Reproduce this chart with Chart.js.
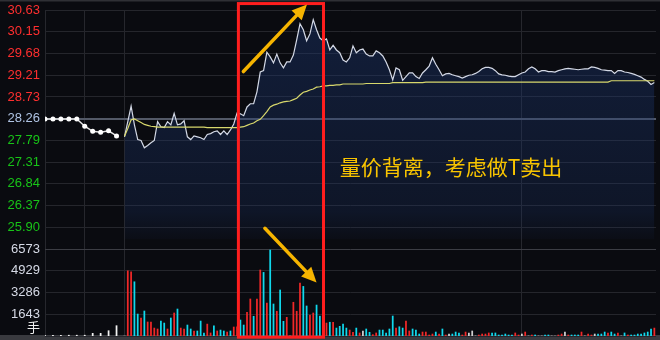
<!DOCTYPE html>
<html lang="zh-CN">
<head>
<meta charset="UTF-8">
<title>分时图 量价背离</title>
<script src="https://cdn.jsdelivr.net/npm/chart.js"></script>
<style>
  html, body { margin: 0; padding: 0; background: #0a0b10; overflow: hidden; }
  #wrap { width: 660px; height: 340px; position: relative; }
</style>
</head>
<body>
<div id="wrap"><canvas id="chart"></canvas></div>
<script>
// 左侧刻度：价格 + 成交量
const priceTicks = ['30.63', '30.15', '29.68', '29.21', '28.73', '28.26', '27.79', '27.31', '26.84', '26.37', '25.90'];
const volTicks = ['6573', '4929', '3286', '1643', '手'];

// 集合竞价 9:15 - 9:24
const auctionPrice = [28.26, 28.26, 28.26, 28.26, 28.26, 28.10, 27.99, 27.97, 28.00, 27.89];
const auctionVol = [60, 60, 60, 60, 60, 60, 200, 200, 400, 780];

// 连续竞价，每分钟一个点（9:30 起）
const price = [
  27.87, 28.20, 28.54, 28.13, 27.81, 27.79, 27.63, 27.68, 27.74, 27.79,
  28.20, 28.09, 28.07, 28.20, 28.13, 28.38, 28.13, 28.15, 28.22, 27.87,
  27.81, 27.89, 27.87, 27.85, 27.81, 27.92, 27.94, 27.98, 28.00, 27.92,
  28.00, 27.92, 28.02, 28.15, 28.39, 28.37, 28.33, 28.52, 28.59, 28.59,
  28.85, 29.28, 29.31, 29.71, 29.61, 29.48, 29.67, 29.48, 29.37, 29.50,
  29.50, 29.65, 29.98, 30.33, 30.20, 29.96, 30.11, 30.42, 30.20, 30.02,
  29.96, 30.00, 29.76, 29.86, 29.76, 29.70, 29.54, 29.50, 29.59, 29.85,
  29.70, 29.76, 29.78, 29.67, 29.63, 29.63, 29.74, 29.70, 29.63, 29.50,
  29.33, 29.11, 29.37, 29.33, 29.10, 29.18, 29.26, 29.26, 29.18, 29.14,
  29.26, 29.33, 29.41, 29.59, 29.45, 29.33, 29.20, 29.24, 29.25, 29.22,
  29.20, 29.18, 29.15, 29.18, 29.21, 29.22, 29.25, 29.29, 29.35, 29.38,
  29.38, 29.36, 29.31, 29.24, 29.22, 29.21, 29.19, 29.18, 29.18, 29.22,
  29.26, 29.28, 29.35, 29.39, 29.35, 29.28, 29.31, 29.31, 29.29, 29.29,
  29.28, 29.31, 29.33, 29.35, 29.36, 29.35, 29.34, 29.33, 29.34, 29.35,
  29.35, 29.39, 29.38, 29.36, 29.33, 29.32, 29.31, 29.31, 29.25, 29.31,
  29.31, 29.28, 29.27, 29.25, 29.23, 29.20, 29.17, 29.12, 29.08, 29.01,
  29.05
];
const avgPrice = [
  27.88, 28.05, 28.24, 28.26, 28.22, 28.18, 28.14, 28.12, 28.10, 28.09,
  28.08, 28.08, 28.08, 28.08, 28.08, 28.08, 28.08, 28.08, 28.08, 28.08,
  28.08, 28.08, 28.08, 28.08, 28.08, 28.07, 28.07, 28.07, 28.07, 28.07,
  28.07, 28.07, 28.07, 28.07, 28.07, 28.08, 28.09, 28.12, 28.15, 28.17,
  28.22, 28.25, 28.33, 28.42, 28.52, 28.56, 28.58, 28.61, 28.63, 28.64,
  28.65, 28.68, 28.71, 28.78, 28.84, 28.86, 28.89, 28.91, 28.95, 28.96,
  28.98, 28.98, 28.99, 28.99, 29.00, 29.00, 29.02, 29.02, 29.02, 29.02,
  29.02, 29.02, 29.02, 29.03, 29.03, 29.03, 29.03, 29.03, 29.03, 29.03,
  29.03, 29.05, 29.05, 29.05, 29.05, 29.05, 29.05, 29.05, 29.05, 29.05,
  29.05, 29.06, 29.06, 29.06, 29.06, 29.06, 29.06, 29.06, 29.06, 29.06,
  29.06, 29.06, 29.06, 29.06, 29.06, 29.06, 29.06, 29.06, 29.06, 29.06,
  29.06, 29.06, 29.06, 29.06, 29.06, 29.06, 29.06, 29.06, 29.06, 29.06,
  29.06, 29.06, 29.06, 29.06, 29.06, 29.06, 29.06, 29.06, 29.06, 29.06,
  29.06, 29.06, 29.06, 29.06, 29.06, 29.06, 29.06, 29.06, 29.06, 29.06,
  29.06, 29.06, 29.06, 29.06, 29.06, 29.06, 29.06, 29.09, 29.09, 29.09,
  29.09, 29.09, 29.09, 29.09, 29.09, 29.09, 29.09, 29.09, 29.09, 29.09,
  29.09
];
const volume = [
  0, 4930, 4860, 4100, 1660, 1360, 1890, 1060, 1060, 600,
  530, 1130, 980, 530, 1360, 1740, 2040, 600, 530, 830,
  530, 380, 380, 1130, 230, 900, 230, 760, 380, 450,
  380, 300, 380, 680, 700, 1210, 830, 1790, 2800, 1490,
  2800, 4990, 4810, 2490, 6500, 2420, 1870, 3480, 1110, 1410,
  0, 2550, 1870, 4000, 3750, 2270, 1590, 1740, 2340, 1500,
  1740, 980, 1040, 1040, 600, 730, 910, 600, 450, 280,
  600, 230, 380, 530, 280, 100, 230, 450, 450, 230,
  530, 1510, 600, 700, 600, 1130, 380, 530, 450, 150,
  300, 300, 75, 150, 300, 150, 530, 75, 150, 150,
  300, 230, 75, 300, 230, 380, 0, 75, 150, 150,
  230, 230, 230, 75, 75, 150, 75, 75, 230, 75,
  150, 300, 0, 75, 75, 0, 0, 75, 75, 0,
  0, 75, 150, 300, 75, 75, 75, 75, 300, 0,
  150, 75, 150, 150, 150, 300, 230, 300, 150, 230,
  0, 230, 75, 75, 75, 150, 150, 230, 300, 530,
  600
];
// 每分钟涨跌：u 涨 / d 跌 / f 平
const volDir =
  'f' +
  'uudduduuuu' + 'ddududuudd' + 'uddduududd' + 'uduudduudu' +
  'ududdudduf' + 'uuudduuddd' + 'ududddduud' + 'ufdduudddd' +
  'dudduudddu' + 'uuududufdd' + 'duufffuuuu' + 'ddddddduuf' +
  'ufudffddff' + 'uufudddufu' + 'ufdddudduf' + 'dudddddddu';

// 竖向网格：9:15、9:20、9:30、10:30、11:30/13:00
const xGrid = [0, 12, 24, 84, 144];

// 标注
const markBox = { x0: 58.4, x1: 84.1, top: 30.77, bottom: 23.51 };
const priceArrow = { x0: 59.9, y0: 29.29, x1: 79.1, y1: 30.75 };
const volArrow = { x0: 66.4, y0: 25.88, x1: 82.0, y1: 24.70 };
const note = { text: '量价背离，考虑做T卖出', x: 89.0, y: 27.22 };

// 坐标换算
const AUCTION_STEP = 2.4;
const OPEN_X = 24;
const X_MAX = 184.5;
const Y_MAX = Number(priceTicks[0]);
const Y_STEP = (Y_MAX - Number(priceTicks[priceTicks.length - 1])) / (priceTicks.length - 1);
const ROWS = priceTicks.length + volTicks.length - 1;
const Y_MIN = Y_MAX - ROWS * Y_STEP;
const V_MAX = Number(volTicks[0]) * ROWS / (volTicks.length - 1);
const FILL_FLOOR = 25.64;

const allTicks = priceTicks.concat(volTicks);
const prevIdx = priceTicks.indexOf('28.26');

const dirColor = { u: '#f02828', d: '#10d8ec', f: '#d0d0d0' };

function tickColor(i) {
  if (i < prevIdx) return '#ff2f2f';
  if (i === prevIdx) return '#b0c4e4';
  if (i < priceTicks.length) return '#18c418';
  if (i === allTicks.length - 1) return '#f0f0f0';
  return '#d6dae6';
}

const backdrop = {
  id: 'backdrop',
  beforeDraw(ch) {
    const c = ch.ctx;
    c.save();
    c.fillStyle = '#0a0b10';
    c.fillRect(0, 0, ch.width, ch.height);
    c.fillStyle = '#2f3035';
    c.fillRect(0, 0, ch.width, 1.5);
    c.fillStyle = '#393a3f';
    c.fillRect(0, ch.chartArea.bottom - 1, ch.width, ch.height - ch.chartArea.bottom + 1);
    c.restore();
  }
};

function drawArrow(c, x1, y1, x2, y2) {
  const a = Math.atan2(y2 - y1, x2 - x1);
  const head = 15, half = 7;
  const bx = x2 - head * Math.cos(a), by = y2 - head * Math.sin(a);
  c.strokeStyle = '#f6b400';
  c.fillStyle = '#f6b400';
  c.lineWidth = 3.5;
  c.lineCap = 'round';
  c.beginPath();
  c.moveTo(x1, y1);
  c.lineTo(bx, by);
  c.stroke();
  c.beginPath();
  c.moveTo(x2, y2);
  c.lineTo(bx + half * Math.sin(a), by - half * Math.cos(a));
  c.lineTo(bx - half * Math.sin(a), by + half * Math.cos(a));
  c.closePath();
  c.fill();
}

const marks = {
  id: 'marks',
  afterDraw(ch) {
    const c = ch.ctx, xs = ch.scales.x, ys = ch.scales.y;
    const px = v => xs.getPixelForValue(v), py = v => ys.getPixelForValue(v);
    c.save();
    // 红框
    c.strokeStyle = '#ff1e1e';
    c.lineWidth = 3;
    c.strokeRect(px(markBox.x0), py(markBox.top), px(markBox.x1) - px(markBox.x0), py(markBox.bottom) - py(markBox.top));
    // 箭头
    drawArrow(c, px(priceArrow.x0), py(priceArrow.y0), px(priceArrow.x1), py(priceArrow.y1));
    drawArrow(c, px(volArrow.x0), py(volArrow.y0), px(volArrow.x1), py(volArrow.y1));
    // 文字
    c.font = '21px "Noto Sans CJK SC", sans-serif';
    c.fillStyle = '#f8c400';
    c.textBaseline = 'middle';
    c.textAlign = 'left';
    c.fillText(note.text, px(note.x), py(note.y));
    c.restore();
  }
};

const ctx = document.getElementById('chart').getContext('2d');
new Chart(ctx, {
  type: 'line',
  data: {
    datasets: [
      {
        label: '集合竞价',
        data: auctionPrice.map((p, i) => ({ x: i * AUCTION_STEP, y: p })),
        borderColor: '#e6e6e6',
        borderWidth: 1.5,
        pointRadius: 2.5,
        pointBackgroundColor: '#ffffff',
        pointBorderWidth: 0,
        yAxisID: 'y',
        order: 1
      },
      {
        label: '价格',
        data: price.map((p, m) => ({ x: OPEN_X + m, y: p })),
        borderColor: '#d4d9e6',
        borderWidth: 1.2,
        pointRadius: 0,
        fill: { value: FILL_FLOOR },
        backgroundColor: (c) => {
          const ch = c.chart;
          if (!ch.chartArea) return 'rgba(28,54,111,0.35)';
          const ys = ch.scales.y;
          const g = ch.ctx.createLinearGradient(0, ys.getPixelForValue(Y_MAX), 0, ys.getPixelForValue(FILL_FLOOR));
          g.addColorStop(0, 'rgba(28,54,111,0.45)');
          g.addColorStop(0.88, 'rgba(28,54,111,0.25)');
          g.addColorStop(1, 'rgba(28,54,111,0.06)');
          return g;
        },
        yAxisID: 'y',
        order: 2
      },
      {
        label: '均价',
        data: avgPrice.map((p, m) => ({ x: OPEN_X + m, y: p })),
        borderColor: '#d8d86c',
        borderWidth: 1.2,
        pointRadius: 0,
        fill: false,
        yAxisID: 'y',
        order: 1
      },
      {
        type: 'bar',
        label: '成交量',
        data: volume.map((v, m) => ({ x: OPEN_X + m, y: v })),
        backgroundColor: volume.map((v, m) => dirColor[volDir[m]]),
        barThickness: 1.1,
        grouped: false,
        yAxisID: 'v',
        order: 3
      },
      {
        type: 'bar',
        label: '竞价量',
        data: auctionVol.map((v, i) => ({ x: i * AUCTION_STEP, y: v })),
        backgroundColor: '#f2f2f2',
        barThickness: 1.1,
        grouped: false,
        yAxisID: 'v',
        order: 3
      }
    ]
  },
  options: {
    responsive: true,
    maintainAspectRatio: false,
    animation: false,
    layout: { padding: { top: 10, bottom: 3, left: 0, right: 0 } },
    plugins: { legend: { display: false }, tooltip: { enabled: false } },
    scales: {
      x: {
        type: 'linear',
        min: 0,
        max: X_MAX,
        offset: false,
        afterBuildTicks: s => { s.ticks = xGrid.map(v => ({ value: v })); },
        afterFit: s => { s.height = 0; s.paddingLeft = 0; s.paddingRight = 0; },
        ticks: { display: false },
        grid: { color: '#26272d', lineWidth: 1, drawTicks: false, offset: false },
        border: { display: false }
      },
      y: {
        position: 'left',
        min: Y_MIN,
        max: Y_MAX,
        afterBuildTicks: s => { s.ticks = allTicks.map((t, i) => ({ value: Y_MAX - i * Y_STEP })); },
        afterFit: s => { s.width = 45; s.paddingTop = 0; s.paddingBottom = 0; },
        ticks: {
          autoSkip: false,
          padding: 5,
          font: { size: 13, family: '"Liberation Sans", Arial, "Noto Sans CJK SC", sans-serif' },
          color: c => tickColor(c.index),
          callback: (v, i) => (i === allTicks.length - 1 ? [allTicks[i], ''] : allTicks[i])
        },
        grid: {
          drawTicks: false,
          color: c => (c.index === prevIdx ? '#535967' : c.index === priceTicks.length ? '#3c3d44' : '#25262c'),
          lineWidth: c => (c.index === prevIdx ? 2 : 1)
        },
        border: { display: false }
      },
      v: {
        display: false,
        min: 0,
        max: V_MAX
      }
    }
  },
  plugins: [backdrop, marks]
});
</script>
</body>
</html>
